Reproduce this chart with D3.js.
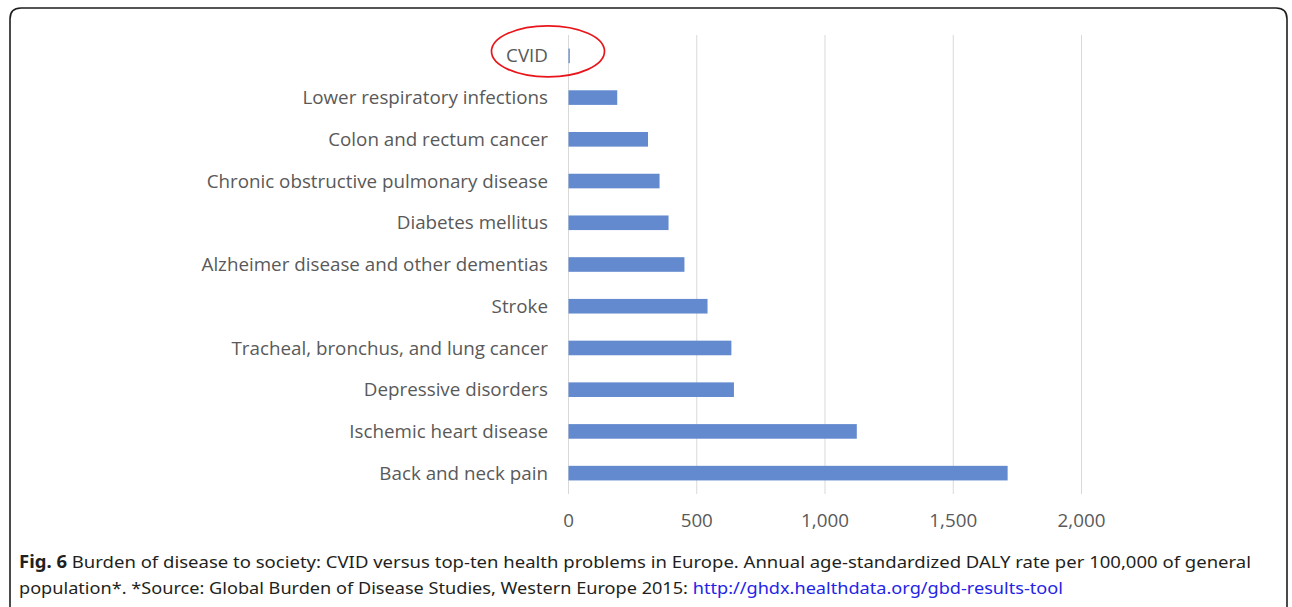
<!DOCTYPE html>
<html>
<head>
<meta charset="utf-8">
<script src="https://cdn.jsdelivr.net/npm/d3@7"></script>
<style>
  html, body { margin: 0; padding: 0; background: #fff; }
  svg { display: block; }
</style>
</head>
<body>
<svg id="chart" width="1292" height="607"></svg>
<script>
// Annual age-standardized DALY rate per 100,000, Western Europe 2015
const categories = [
  "CVID",
  "Lower respiratory infections",
  "Colon and rectum cancer",
  "Chronic obstructive pulmonary disease",
  "Diabetes mellitus",
  "Alzheimer disease and other dementias",
  "Stroke",
  "Tracheal, bronchus, and lung cancer",
  "Depressive disorders",
  "Ischemic heart disease",
  "Back and neck pain"
];
const dalyRates = [5, 190, 310, 355, 390, 452, 542, 635, 645, 1124, 1712];
const tickValues = [0, 500, 1000, 1500, 2000];

const svg = d3.select("#chart");

// Frame around figure and caption
const fx = 10, fy = 8, fr = 11, fw = 1277, fh = 620;
svg.append("path")
  .attr("d", `M${fx},${fy + fh} L${fx},${fy + fr} Q${fx},${fy} ${fx + fr},${fy} L${fx + fw - fr},${fy} Q${fx + fw},${fy} ${fx + fw},${fy + fr} L${fx + fw},${fy + fh}`)
  .attr("fill", "none")
  .attr("stroke", "#1e1e1e")
  .attr("stroke-width", 1.6);

const x = d3.scaleLinear().domain([0, 2000]).range([568, 1081]);
const y = d3.scaleBand()
  .domain(categories)
  .range([35, 494])
  .paddingInner(0.65)
  .paddingOuter(0.325);

// Vertical gridlines
svg.append("g")
  .selectAll("line")
  .data(tickValues)
  .join("line")
  .attr("x1", d => x(d) + 0.5)
  .attr("x2", d => x(d) + 0.5)
  .attr("y1", 35)
  .attr("y2", 494)
  .attr("stroke", "#d9d9d9")
  .attr("stroke-width", 1);

// Bars
svg.append("g")
  .selectAll("rect")
  .data(categories.map((c, i) => ({ c, v: dalyRates[i] })))
  .join("rect")
  .attr("x", x(0) + 0.5)
  .attr("y", d => y(d.c))
  .attr("width", d => x(d.v) - x(0))
  .attr("height", y.bandwidth())
  .attr("fill", "#6389cf");

// Category labels
const labelFont = "'Open Sans', 'Noto Sans', sans-serif";
svg.append("g")
  .selectAll("text")
  .data(categories)
  .join("text")
  .attr("x", 548)
  .attr("y", d => y(d) + y.bandwidth() / 2)
  .attr("dy", "0.35em")
  .attr("text-anchor", "end")
  .attr("font-family", labelFont)
  .attr("font-size", 18.8)
  .attr("fill", "#595959")
  .text(d => d);

// Value axis tick labels
const axis = d3.axisBottom(x)
  .tickValues(tickValues)
  .tickFormat(d3.format(","))
  .tickSize(0)
  .tickPadding(0);
const ax = svg.append("g").attr("transform", "translate(0,514)").call(axis);
ax.select(".domain").remove();
ax.selectAll("text")
  .attr("font-family", labelFont)
  .attr("font-size", 18.8)
  .attr("fill", "#595959");

// Highlight ellipse around CVID
svg.append("ellipse")
  .attr("cx", 548)
  .attr("cy", y("CVID") + y.bandwidth() / 2 - 4.5)
  .attr("rx", 56.5)
  .attr("ry", 25.5)
  .attr("fill", "none")
  .attr("stroke", "#e8161b")
  .attr("stroke-width", 1.7);

// Caption
const capFont = "'Noto Sans', 'Open Sans', sans-serif";
const cap1 = svg.append("text")
  .attr("x", 19)
  .attr("y", 568)
  .attr("font-family", capFont)
  .attr("font-size", 17)
  .attr("fill", "#231f20")
  .attr("textLength", 1232)
  .attr("lengthAdjust", "spacingAndGlyphs");
cap1.append("tspan").attr("font-weight", "bold").text("Fig. 6");
cap1.append("tspan").text(" Burden of disease to society: CVID versus top-ten health problems in Europe. Annual age-standardized DALY rate per 100,000 of general");

const cap2 = svg.append("text")
  .attr("x", 19)
  .attr("y", 594)
  .attr("font-family", capFont)
  .attr("font-size", 17)
  .attr("fill", "#231f20")
  .attr("textLength", 1044)
  .attr("lengthAdjust", "spacingAndGlyphs");
cap2.append("tspan").text("population*. *Source: Global Burden of Disease Studies, Western Europe 2015: ");
cap2.append("tspan").attr("fill", "#2424e6").text("http://ghdx.healthdata.org/gbd-results-tool");
</script>
</body>
</html>
